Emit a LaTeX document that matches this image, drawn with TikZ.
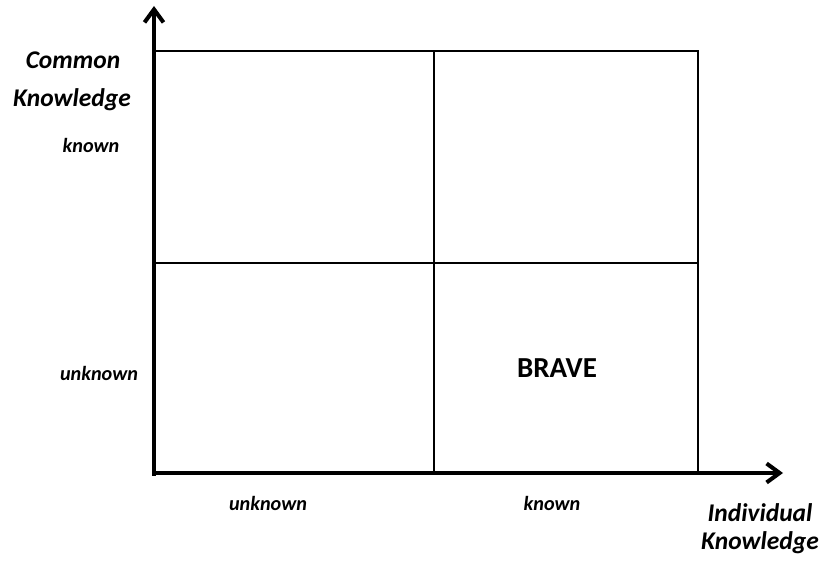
\documentclass[tikz,border=0pt]{standalone}
\usepackage{fontspec}
\setmainfont{Carlito}
\usetikzlibrary{arrows.meta}
\tikzset{
  axislabel/.style={font=\fontsize{14.5}{17}\selectfont\bfseries\itshape},
  ticklabel/.style={font=\fontsize{11.5}{14}\selectfont\bfseries\itshape},
  axisline/.style={line width=2.3pt,-{Straight Barb[length=2.6mm,width=3.8mm]}},
  cell/.style={line width=0.6pt}
}
\begin{document}
\begin{tikzpicture}
  \useasboundingbox (0,0) rectangle (16.52,11.24);
  % corners of the grid
  \coordinate (o) at (3.08,1.78);
  \coordinate (ytip) at (3.08,11.12);
  \coordinate (xtip) at (15.66,1.78);
  % quadrant grid
  \draw[cell] (3.08,10.22) -- (13.96,10.22) -- (13.96,1.78);
  \draw[cell] (3.08,5.98) -- (13.96,5.98);
  \draw[cell] (8.68,10.22) -- (8.68,1.78);
  % axes
  \draw[axisline] (3.08,1.72) -- (ytip);
  \draw[axisline] (3.04,1.78) -- (xtip);
  % axis titles
  \node[axislabel] (ck1) at (1.46,10.04) {Common};
  \node[axislabel] (ck2) at (1.44,9.24) {Knowledge};
  \node[axislabel] (ik1) at (15.2,0.98) {Individual};
  \node[axislabel] (ik2) at (15.2,0.38) {Knowledge};
  % tick labels
  \node[ticklabel] (yk) at (1.82,8.34) {known};
  \node[ticklabel] (yu) at (1.98,3.78) {unknown};
  \node[ticklabel] (xu) at (5.36,1.18) {unknown};
  \node[ticklabel] (xk) at (11.04,1.18) {known};
  % quadrant label
  \node[font=\fontsize{16.5}{19}\selectfont\bfseries] (brave) at (11.14,3.88) {BRAVE};
\end{tikzpicture}
\end{document}
